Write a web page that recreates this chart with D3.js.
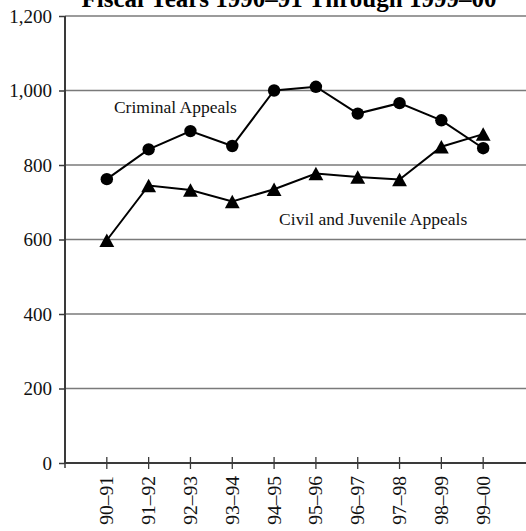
<!DOCTYPE html>
<html><head><meta charset="utf-8">
<script src="https://cdn.jsdelivr.net/npm/d3@7"></script>
<style>body{margin:0;background:#fff}svg{display:block}</style>
</head><body>
<svg id="c" width="526" height="531"></svg>
<script>
const title = "Fiscal Years 1990\u201391 Through 1999\u201300";
const categories = ["90\u201391","91\u201392","92\u201393","93\u201394","94\u201395","95\u201396","96\u201397","97\u201398","98\u201399","99\u201300"];
const criminal = [762, 842, 891, 851, 1000, 1010, 938, 966, 920, 845];
const civil = [598, 745, 733, 702, 735, 777, 768, 761, 849, 883];
const yTicks = [0, 200, 400, 600, 800, 1000, 1200];
const seriesLabels = [
  {text: "Criminal Appeals", idx: 1.17, val: 940},
  {text: "Civil and Juvenile Appeals", idx: 5.12, val: 639}
];

const svg = d3.select("#c");
const x = d3.scaleLinear().domain([0, categories.length + 1]).range([65, 525]);
const y = d3.scaleLinear().domain([0, 1200]).range([463, 16]);
const font = "'Liberation Serif','Times New Roman',serif";

// gridlines
svg.append("g").selectAll("line").data(yTicks.filter(d => d > 0)).join("line")
  .attr("x1", x(0)).attr("x2", 526).attr("y1", d => y(d)).attr("y2", d => y(d))
  .attr("stroke", "#7a7a7a").attr("stroke-width", 1.6);

// y axis
const yAxis = svg.append("g").attr("transform", `translate(${x(0)},0)`)
  .call(d3.axisLeft(y).tickValues(yTicks).tickSize(6).tickPadding(7).tickFormat(d3.format(",")));
yAxis.select(".domain").attr("stroke", "#3a3a3a").attr("stroke-width", 2).attr("d", `M0,${y(0)}V${y(1200)}`);
yAxis.selectAll(".tick line").attr("stroke", "#3a3a3a").attr("stroke-width", 1.5);
yAxis.selectAll("text").attr("font-family", font).attr("font-size", 19).attr("fill", "#111");

// x axis
const idx = d3.range(1, categories.length + 1);
const xAxis = svg.append("g").attr("transform", `translate(0,${y(0)})`);
xAxis.append("line").attr("x1", x(0)).attr("x2", 526).attr("stroke", "#3a3a3a").attr("stroke-width", 2);
xAxis.selectAll("line.t").data(idx).join("line").attr("class", "t")
  .attr("x1", d => x(d)).attr("x2", d => x(d)).attr("y1", -6).attr("y2", 6)
  .attr("stroke", "#3a3a3a").attr("stroke-width", 1.3);
xAxis.append("line").attr("x1", x(0)).attr("x2", x(0)).attr("y1", 0).attr("y2", 5)
  .attr("stroke", "#3a3a3a").attr("stroke-width", 1.5);
xAxis.selectAll("text").data(idx).join("text")
  .attr("transform", d => `translate(${x(d)},13) rotate(-90)`)
  .attr("text-anchor", "end").attr("dy", "0.33em")
  .attr("font-family", font).attr("font-size", 19.5).attr("fill", "#111")
  .text(d => categories[d - 1]);

// lines
const line = d3.line().x((d, i) => x(i + 1)).y(d => y(d));
[criminal, civil].forEach(s => {
  svg.append("path").attr("d", line(s)).attr("fill", "none").attr("stroke", "#000").attr("stroke-width", 2);
});

// markers
svg.append("g").selectAll("circle").data(criminal).join("circle")
  .attr("cx", (d, i) => x(i + 1)).attr("cy", d => y(d)).attr("r", 6.2).attr("fill", "#000");
const tri = { draw(ctx, size) { const h = Math.sqrt(size); ctx.moveTo(0, -h / 2); ctx.lineTo(h * 0.55, h / 2); ctx.lineTo(-h * 0.55, h / 2); ctx.closePath(); } };
svg.append("g").selectAll("path").data(civil).join("path")
  .attr("d", d3.symbol().type(tri).size(182))
  .attr("transform", (d, i) => `translate(${x(i + 1)},${y(d)})`).attr("fill", "#000");

// series labels
svg.append("g").selectAll("text").data(seriesLabels).join("text")
  .attr("x", d => x(d.idx)).attr("y", d => y(d.val))
  .attr("font-family", font).attr("font-size", 17.5).attr("fill", "#111").text(d => d.text);

// title
svg.append("text").attr("x", 289).attr("y", 6.5).attr("text-anchor", "middle")
  .attr("font-family", font).attr("font-size", 25).attr("font-weight", "bold").attr("fill", "#000").text(title);
</script>
</body></html>
